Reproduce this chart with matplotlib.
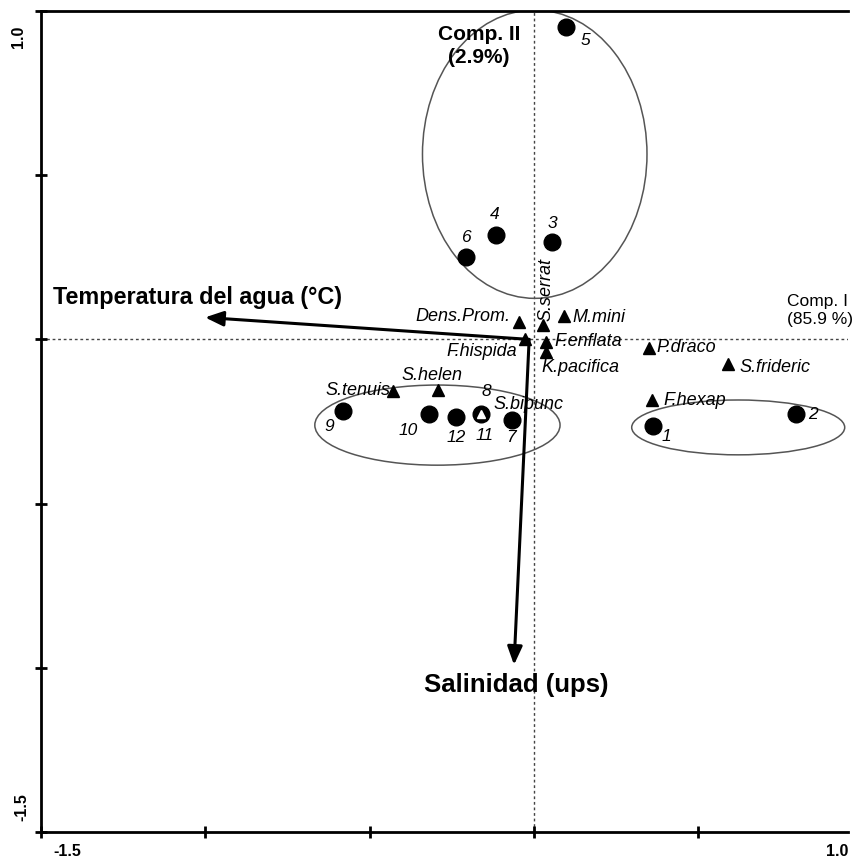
import matplotlib
matplotlib.use("Agg")
import matplotlib.pyplot as plt
from matplotlib.patches import Ellipse

plt.rcParams['font.family'] = ['Liberation Sans', 'DejaVu Sans']

# Sites (circles)
site_labels = ['5', '4', '3', '6', '9', '10', '12', '11', '7', '1', '2']
site_x = [0.097, -0.116, 0.056, -0.207, -0.580, -0.319, -0.238, -0.160, -0.066, 0.361, 0.797]
site_y = [0.950, 0.318, 0.296, 0.250, -0.217, -0.228, -0.237, -0.227, -0.245, -0.263, -0.227]
site_off = [(19, -13), (-1, 20), (0, 19), (0, 20), (-14, -16), (-21, -16), (0, -20),
            (3, -22), (-1, -18), (14, -11), (17, -1)]
# Site 8 coincides with site 11
extra_label = '8'
extra_off = (5, 22)

# Species (triangles)
sp_names = ['Dens.Prom.', 'S.serrat', 'M.mini', 'F.hispida', 'F.enflata', 'K.pacifica',
            'P.draco', 'S.frideric', 'F.hexap', 'S.tenuis', 'S.helen', 'S.bipunc']
sp_x = [-0.046, 0.026, 0.092, -0.027, 0.036, 0.036, 0.351, 0.590, 0.360, -0.428, -0.291, -0.160]
sp_y = [0.052, 0.044, 0.072, 0.000, -0.007, -0.037, -0.026, -0.076, -0.185, -0.156, -0.154, -0.227]
sp_off = [(-9, 6), (3, 35), (8, -2), (-8, -12), (9, 0), (-4, -16), (7, 0), (11, -3),
          (11, 0), (-3, 0), (-6, 14), (12, 9)]
sp_ha = ['right', 'center', 'left', 'right', 'left', 'left', 'left', 'left', 'left',
         'right', 'center', 'left']
sp_rot = [0, 90, 0, 0, 0, 0, 0, 0, 0, 0, 0, 0]

# Environmental vectors
env_names = ['Temperatura del agua (°C)', 'Salinidad (ups)']
env_x0 = [-0.015, -0.015]
env_y0 = [0.0, 0.0]
env_x1 = [-1.001, -0.061]
env_y1 = [0.067, -0.991]
env_off = [(-152, 20), (2, -20)]
env_ha = ['left', 'center']
env_size = [16.8, 18.5]

# Group ellipses
ell_cx = [0.002, -0.294, 0.621]
ell_cy = [0.564, -0.261, -0.268]
ell_w = [0.683, 0.746, 0.648]
ell_h = [0.878, 0.244, 0.167]

fig = plt.figure(figsize=(8.52, 8.6), dpi=100)
ax = fig.add_axes([41/852, 1-832/860, 807/852, 821/860])
ax.set_xlim(-1.5, 0.955)
ax.set_ylim(-1.5, 1.0)

ax.axhline(0, color='#444444', lw=1.0, ls=(0, (2, 2)), zorder=1)
ax.axvline(0, color='#444444', lw=1.0, ls=(0, (2, 2)), zorder=1)

for cx, cy, w, h in zip(ell_cx, ell_cy, ell_w, ell_h):
    ax.add_patch(Ellipse((cx, cy), w, h, fill=False, ec='#555555', lw=1.1, zorder=2))

for name, x0, y0, x1, y1, off, ha, fs in zip(env_names, env_x0, env_y0, env_x1, env_y1,
                                             env_off, env_ha, env_size):
    ax.annotate('', xy=(x1, y1), xytext=(x0, y0),
                arrowprops=dict(arrowstyle='-|>,head_length=1.1,head_width=0.45',
                                color='black', lw=2.2, shrinkA=0, shrinkB=0), zorder=3)
    ax.annotate(name, xy=(x1, y1), xytext=off, textcoords='offset pixels',
                ha=ha, va='center', fontsize=fs, fontweight='bold')

ax.plot(site_x, site_y, 'o', color='black', ms=12, zorder=4, ls='none')
ax.plot(sp_x, sp_y, '^', color='black', ms=9, zorder=5, ls='none')
# S.bipunc drawn white over the black site circle
ax.plot(sp_x[-1:], sp_y[-1:], '^', color='white', ms=6, zorder=6, ls='none')

for lab, x, y, off in zip(site_labels, site_x, site_y, site_off):
    ax.annotate(lab, xy=(x, y), xytext=off, textcoords='offset pixels',
                ha='center', va='center', fontsize=12.5, style='italic')
ax.annotate(extra_label, xy=(site_x[7], site_y[7]), xytext=extra_off, textcoords='offset pixels',
            ha='center', va='center', fontsize=12.5, style='italic')

for name, x, y, off, ha, rot in zip(sp_names, sp_x, sp_y, sp_off, sp_ha, sp_rot):
    ax.annotate(name, xy=(x, y), xytext=off, textcoords='offset pixels',
                ha=ha, va='center', fontsize=13, style='italic', rotation=rot)

ax.text(0.543, 0.957, 'Comp. II\n(2.9%)', transform=ax.transAxes, ha='center', va='center',
        fontsize=15, fontweight='bold', linespacing=1.25)
ax.text(0.924, 0.635, 'Comp. I\n(85.9 %)', transform=ax.transAxes, ha='left', va='center',
        fontsize=12.5, linespacing=1.3)

# Spines and ticks
ax.spines['right'].set_visible(False)
for s in ['left', 'bottom', 'top']:
    ax.spines[s].set_linewidth(2)
ax.set_xticks([-1.5, -1.0, -0.5, 0.0, 0.5])
ax.set_yticks([-1.5, -1.0, -0.5, 0.0, 0.5, 1.0])
ax.set_xticklabels([])
ax.set_yticklabels([])
ax.tick_params(direction='inout', length=9, width=2, top=False, right=False)

ax.text(67/852, 1-852/860, '-1.5', transform=fig.transFigure, ha='center', va='center',
        fontsize=11.5, fontweight='bold')
ax.text(848/852, 1-851/860, '1.0', transform=fig.transFigure, ha='right', va='center',
        fontsize=11.5, fontweight='bold')
ax.text(19/852, 1-37/860, '1.0', transform=fig.transFigure, ha='center', va='center',
        fontsize=11.5, fontweight='bold', rotation=90)
ax.text(22/852, 1-807/860, '-1.5', transform=fig.transFigure, ha='center', va='center',
        fontsize=11.5, fontweight='bold', rotation=90)

fig.savefig('out.png', dpi=100)
